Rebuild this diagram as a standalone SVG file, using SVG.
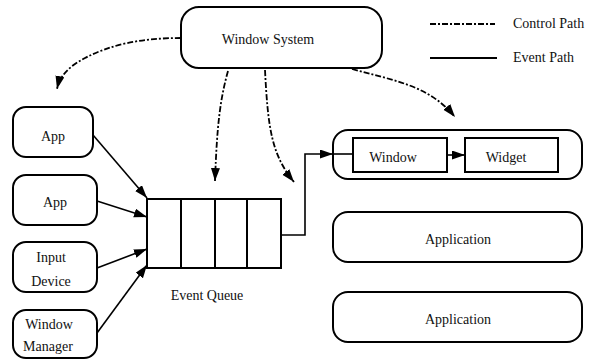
<svg xmlns="http://www.w3.org/2000/svg" width="597" height="360" viewBox="0 0 597 360">
<style>
text{font-family:"Liberation Serif","Times New Roman",serif;font-size:14px;fill:#111;text-anchor:middle}
.box{fill:#fff;stroke:#000;stroke-width:2}
.ev{fill:none;stroke:#000;stroke-width:1.6}
.ctl{fill:none;stroke:#000;stroke-width:1.8;stroke-dasharray:6,2,2,2}
</style>
<defs>
<marker id="ah" markerUnits="userSpaceOnUse" markerWidth="14" markerHeight="10" refX="13" refY="4.5" orient="auto">
<path d="M0,0 L13,4.5 L0,9 z" fill="#000"/>
</marker>
</defs>
<g id="legend">
<line x1="430" y1="24" x2="495" y2="24" class="ctl"/>
<text x="513" y="28" style="text-anchor:start">Control Path</text>
<line x1="430" y1="58" x2="497" y2="58" stroke="#000" stroke-width="2"/>
<text x="513" y="62" style="text-anchor:start">Event Path</text>
</g>
<g id="window-system"><rect class="box" x="181" y="7" width="201" height="61" rx="18"/><text x="268" y="44">Window System</text></g>
<g id="app1"><rect class="box" x="13" y="107" width="80" height="50" rx="13"/><text x="53" y="141">App</text></g>
<g id="app2"><rect class="box" x="13" y="175" width="84" height="50" rx="13"/><text x="55" y="207">App</text></g>
<g id="input-device"><rect class="box" x="13" y="242" width="84" height="50" rx="13"/><text x="51" y="262">Input</text><text x="51" y="286">Device</text></g>
<g id="window-manager"><rect class="box" x="13" y="310" width="84" height="48" rx="13"/><text x="49" y="329">Window</text><text x="48" y="351">Manager</text></g>
<g id="event-queue">
<rect class="box" x="147" y="199" width="134" height="69"/>
<line x1="181" y1="199" x2="181" y2="268" stroke="#000" stroke-width="2"/>
<line x1="215" y1="199" x2="215" y2="268" stroke="#000" stroke-width="2"/>
<line x1="247" y1="199" x2="247" y2="268" stroke="#000" stroke-width="2"/>
<text x="207" y="300">Event Queue</text>
</g>
<g id="app-container"><rect class="box" x="333" y="130" width="249" height="49" rx="15"/></g>
<g id="window"><rect class="box" x="353" y="138" width="94" height="34"/><text x="393" y="162">Window</text></g>
<g id="widget"><rect class="box" x="465" y="138" width="93" height="34"/><text x="506" y="162">Widget</text></g>
<g id="application1"><rect class="box" x="333" y="212" width="249" height="50" rx="15"/><text x="458" y="244">Application</text></g>
<g id="application2"><rect class="box" x="333" y="292" width="249" height="50" rx="15"/><text x="458" y="324">Application</text></g>
<g id="connectors">
<path class="ctl" d="M181,38 C140,38 110,45 85,58 C68,67 60,76 57,89" marker-end="url(#ah)"/>
<path class="ctl" d="M228,71 C220,100 217,125 215,181" marker-end="url(#ah)"/>
<path class="ctl" d="M265,70 C268,130 272,155 294,182" marker-end="url(#ah)"/>
<path class="ctl" d="M352,69 C390,80 428,84 455,117" marker-end="url(#ah)"/>
<line class="ev" x1="93" y1="135" x2="147" y2="198" marker-end="url(#ah)"/>
<line class="ev" x1="97" y1="201" x2="147" y2="217" marker-end="url(#ah)"/>
<line class="ev" x1="97" y1="268" x2="147" y2="249" marker-end="url(#ah)"/>
<line class="ev" x1="97" y1="333" x2="147" y2="265" marker-end="url(#ah)"/>
<path class="ev" d="M281,235 H305 V154 H333" marker-end="url(#ah)"/>
<line class="ev" x1="333" y1="154" x2="353" y2="154"/>
<line class="ev" x1="447" y1="155" x2="465" y2="155" marker-end="url(#ah)"/>
</g>
</svg>
